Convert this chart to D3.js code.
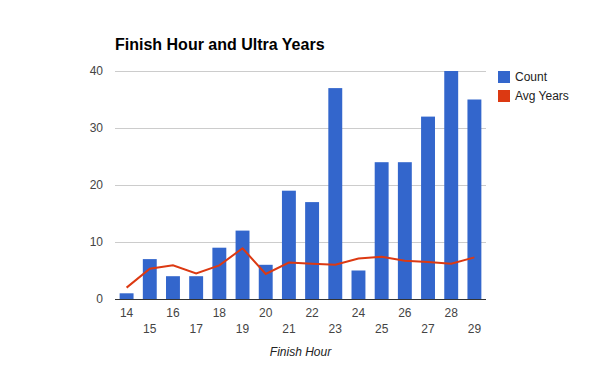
<!DOCTYPE html>
<html>
<head>
<meta charset="UTF-8">
<script src="https://cdn.jsdelivr.net/npm/d3@7"></script>
<style>
  body { margin: 0; background: #fff; font-family: Arial, "Liberation Sans", sans-serif; }
  .grid line { stroke: #ccc; shape-rendering: crispEdges; }
  .tick text { fill: #444; font-size: 12px; }
</style>
</head>
<body>
<script>
  // chart data
  let hours = ["14","15","16","17","18","19","20","21","22","23","24","25","26","27","28","29"];
  let counts = [1, 7, 4, 4, 9, 12, 6, 19, 17, 37, 5, 24, 24, 32, 40, 35];
  let avgYears = [2.0, 5.3, 5.9, 4.5, 5.9, 8.9, 4.4, 6.4, 6.2, 6.0, 7.1, 7.4, 6.7, 6.5, 6.2, 7.3];
  let yTicks = [0, 10, 20, 30, 40];

  let width = 600, height = 371;
  let margin = {top: 71, right: 114, bottom: 72, left: 115};
  let w = width - margin.left - margin.right,
      h = height - margin.top - margin.bottom;

  let svg = d3.select("body").append("svg")
    .attr("width", width)
    .attr("height", height);

  // title
  svg.append("text")
    .attr("x", margin.left)
    .attr("y", 50)
    .style("font-size", "16px")
    .style("font-weight", "bold")
    .style("fill", "#000")
    .text("Finish Hour and Ultra Years");

  let g = svg.append("g")
    .attr("transform", "translate(" + margin.left + "," + margin.top + ")");

  let x = d3.scaleBand().domain(hours).range([0, w]).paddingInner(0.4).paddingOuter(0.2);
  let y = d3.scaleLinear().domain([0, 40]).range([h, 0]);

  // gridlines
  g.append("g")
    .attr("class", "grid")
    .selectAll("line")
    .data(yTicks.slice(1))
    .enter().append("line")
      .attr("x1", 0)
      .attr("x2", w)
      .attr("y1", d => y(d))
      .attr("y2", d => y(d));

  // y axis labels
  let yAxis = d3.axisLeft(y).tickValues(yTicks).tickSize(0).tickPadding(12);
  g.append("g")
    .call(yAxis)
    .call(s => s.select(".domain").remove());

  // bars
  g.selectAll(".bar")
    .data(counts)
    .enter().append("rect")
      .attr("class", "bar")
      .attr("x", (d, i) => x(hours[i]))
      .attr("width", x.bandwidth())
      .attr("y", d => y(d))
      .attr("height", d => h - y(d))
      .attr("fill", "#3366cc");

  // avg years line
  let line = d3.line()
    .x((d, i) => x(hours[i]) + x.bandwidth() / 2)
    .y(d => y(d));

  g.append("path")
    .attr("d", line(avgYears))
    .attr("fill", "none")
    .attr("stroke", "#dc3912")
    .attr("stroke-width", 2);

  // baseline
  g.append("line")
    .attr("x1", 0)
    .attr("x2", w)
    .attr("y1", h + 0.5)
    .attr("y2", h + 0.5)
    .attr("stroke", "#333");

  // x axis labels, staggered on two rows
  let xAxis = d3.axisBottom(x).tickSize(0).tickPadding(9);
  let xg = g.append("g")
    .attr("transform", "translate(0," + h + ")")
    .call(xAxis);
  xg.select(".domain").remove();
  xg.selectAll(".tick text")
    .attr("dy", (d, i) => i % 2 === 0 ? "0.71em" : "2.1em");

  // x axis title
  svg.append("text")
    .attr("x", margin.left + w / 2)
    .attr("y", 356)
    .attr("text-anchor", "middle")
    .style("font-size", "12px")
    .style("font-style", "italic")
    .style("fill", "#222")
    .text("Finish Hour");

  // legend
  let legendNames = ["Count", "Avg Years"];
  let legendColors = ["#3366cc", "#dc3912"];
  let legend = svg.selectAll(".legend")
    .data(legendNames)
    .enter().append("g")
      .attr("class", "legend")
      .attr("transform", (d, i) => "translate(498," + (71 + i * 19) + ")");

  legend.append("rect")
    .attr("width", 12)
    .attr("height", 12)
    .attr("fill", (d, i) => legendColors[i]);

  legend.append("text")
    .attr("x", 17)
    .attr("y", 10)
    .style("font-size", "12px")
    .style("fill", "#222")
    .text(d => d);
</script>
</body>
</html>
